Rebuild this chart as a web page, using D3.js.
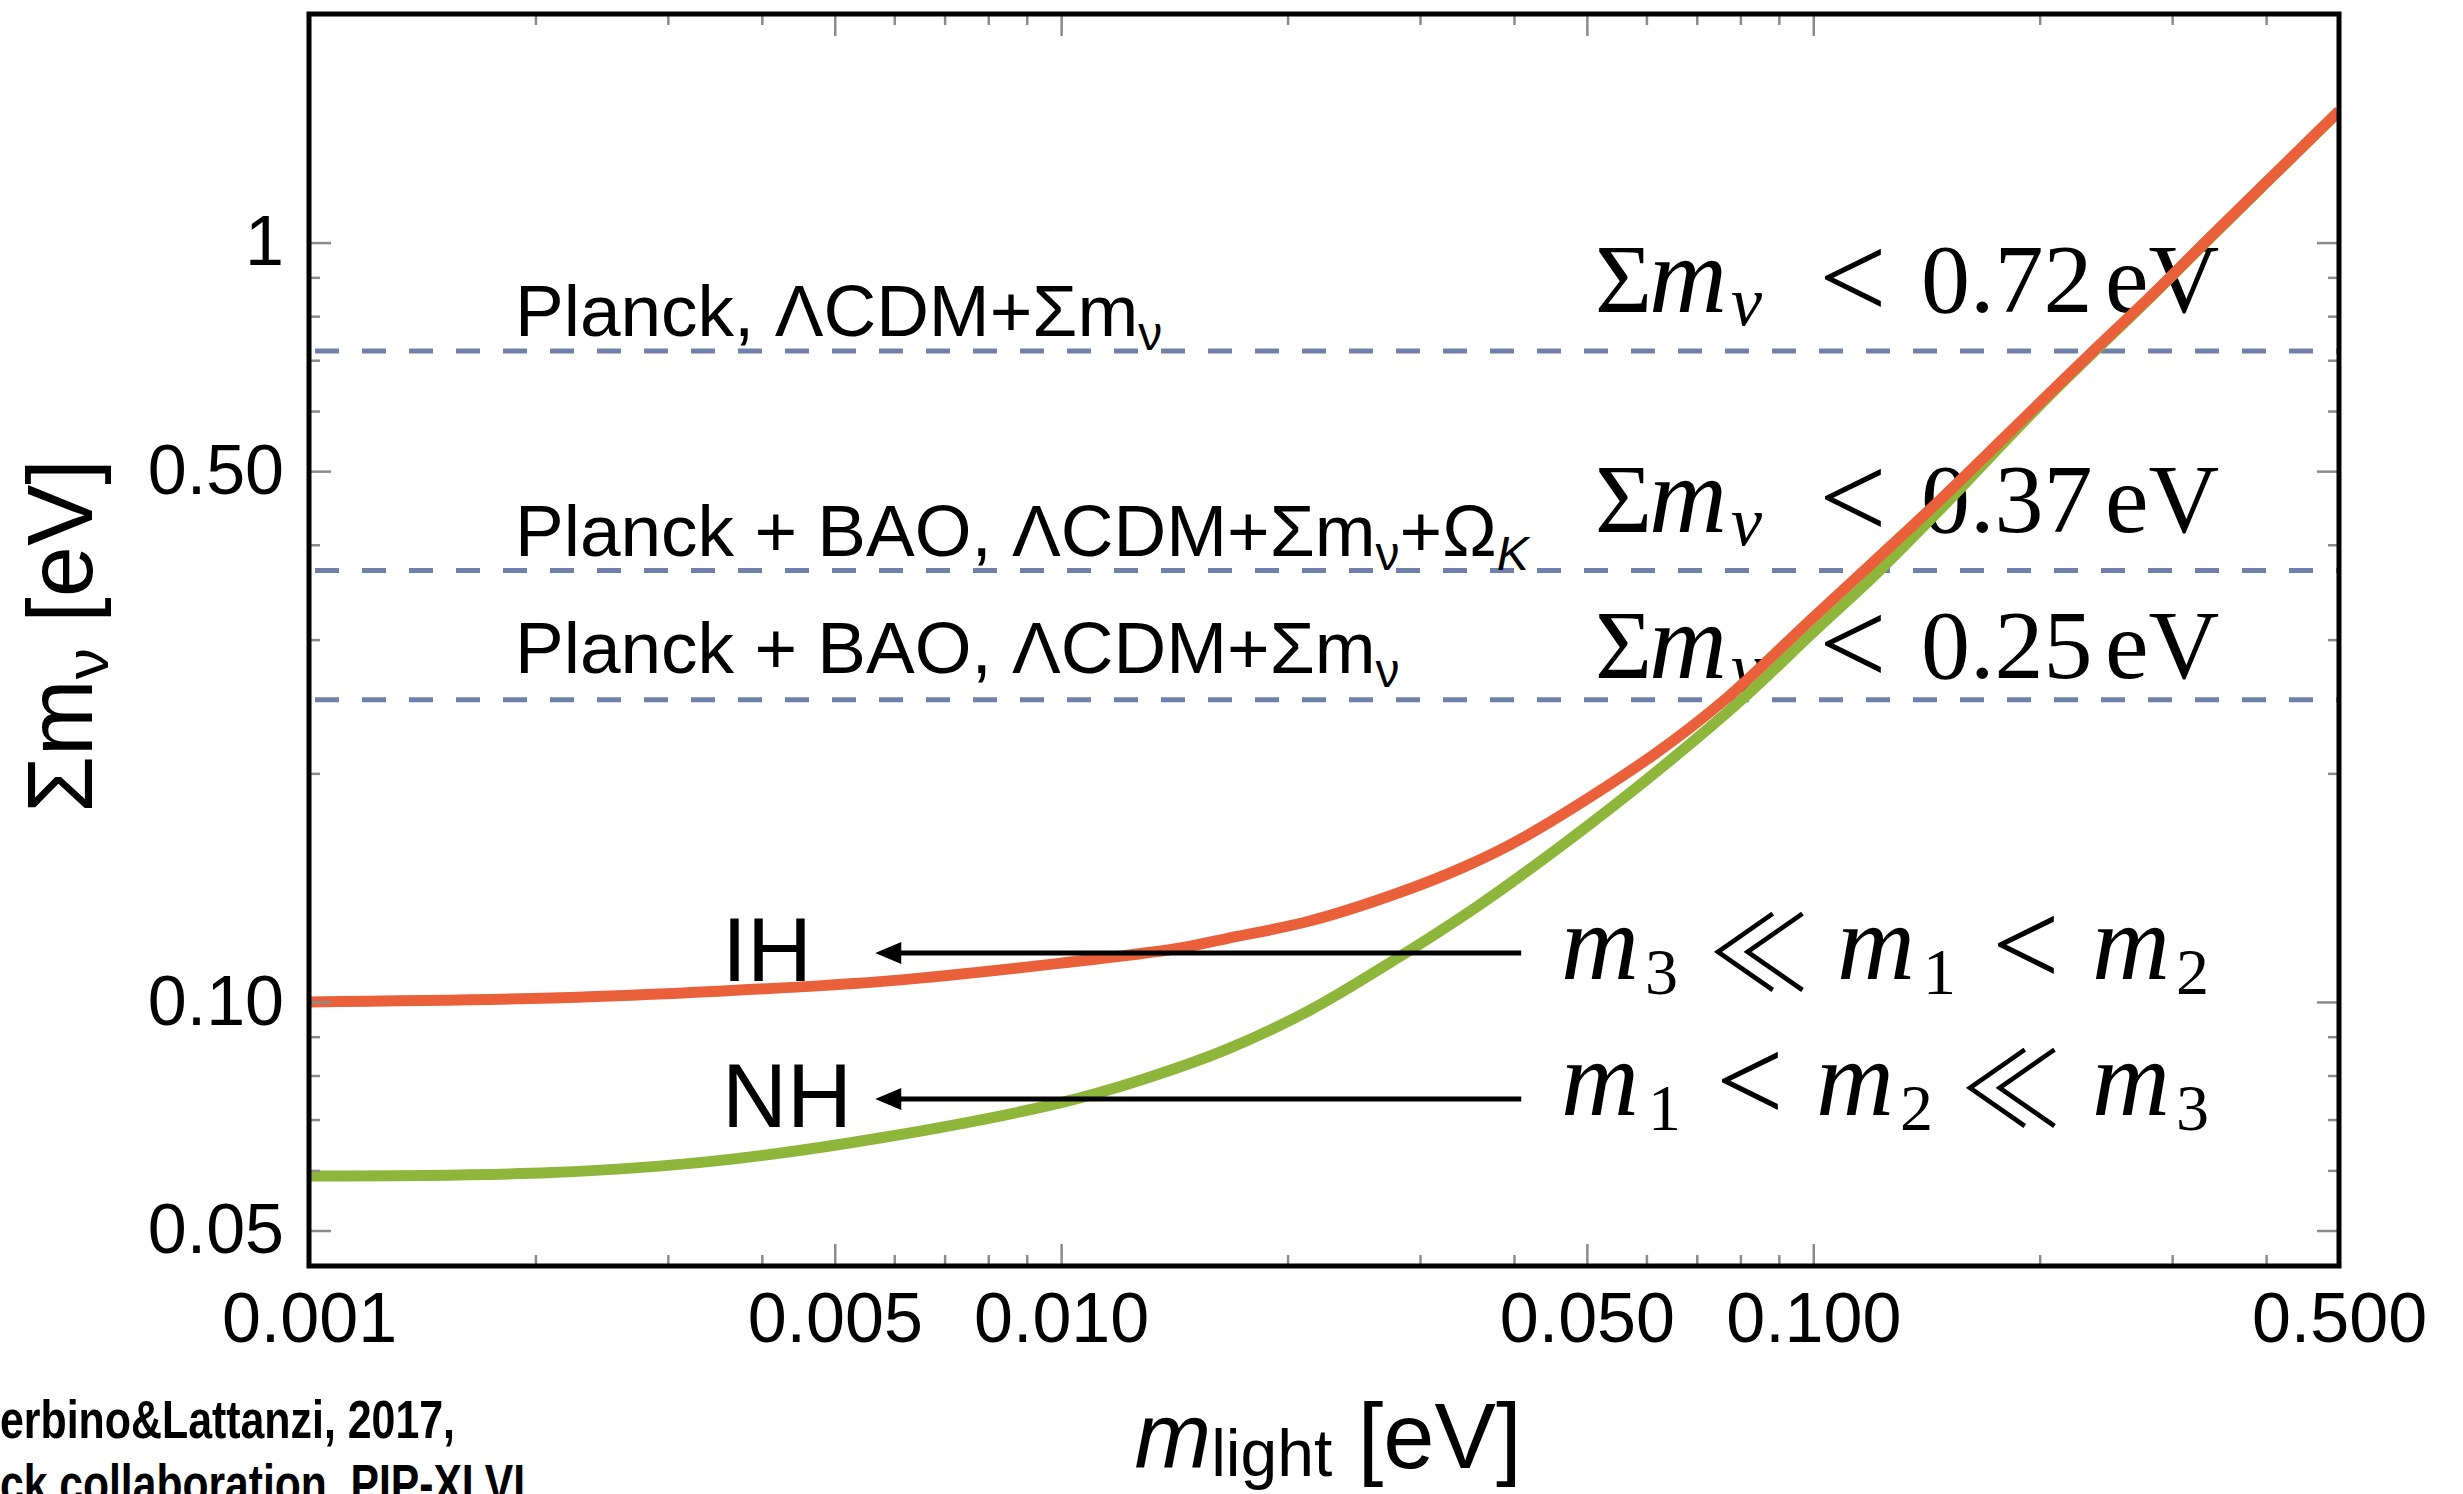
<!DOCTYPE html>
<html>
<head>
<meta charset="utf-8">
<script src="https://cdn.jsdelivr.net/npm/d3@7"></script>
<style>
  body { margin: 0; background: #fff; }
  svg { display: block; }
</style>
</head>
<body>
<div id="chart"></div>
<script>
// sum of neutrino masses vs. lightest mass (eV)
const ihMass = [0.001, 0.0021, 0.0035, 0.0059, 0.010, 0.0142, 0.0166, 0.0214, 0.0277, 0.0343, 0.0409, 0.0611, 0.077, 0.099, 0.120, 0.148, 0.205, 0.234, 0.281, 0.34, 0.5];
const ihSum  = [0.100, 0.1012, 0.1033, 0.1066, 0.1125, 0.1175, 0.1212, 0.1278, 0.1385, 0.1505, 0.164, 0.211, 0.252, 0.318, 0.379, 0.460, 0.630, 0.715, 0.850, 1.025, 1.49];
const nhMass = [0.001, 0.0021, 0.0035, 0.0059, 0.010, 0.0128, 0.0166, 0.0214, 0.0277, 0.0359, 0.0466, 0.0611, 0.081, 0.099, 0.1225, 0.148, 0.205, 0.281, 0.34, 0.5];
const nhSum  = [0.0590, 0.0596, 0.0618, 0.0665, 0.0737, 0.0790, 0.0866, 0.0975, 0.1135, 0.134, 0.1615, 0.199, 0.252, 0.304, 0.370, 0.447, 0.626, 0.848, 1.023, 1.489];

// upper bounds on the sum (eV) and the dataset behind each
const boundValues = [0.72, 0.37, 0.25];
const boundText = ['0.72', '0.37', '0.25'];
const datasetText = [
    [['Planck, ΛCDM+Σm', 'n'], ['ν', 's']],
    [['Planck + BAO, ΛCDM+Σm', 'n'], ['ν', 's'], ['+Ω', 'n'], ['K', 'si']],
    [['Planck + BAO, ΛCDM+Σm', 'n'], ['ν', 's']]
];

// hierarchy annotations
const hierarchyNames = ['IH', 'NH'];
const hierarchyArrowSum = [0.116, 0.0745];
const arrowFromMass = 0.0409;
const arrowToMass = 0.00566;
const orderingText = [
    [['m', 'i'], ['3', 's'], ['≪', 'r'], ['m', 'i'], ['1', 's'], ['<', 'r'], ['m', 'i'], ['2', 's']],
    [['m', 'i'], ['1', 's'], ['<', 'r'], ['m', 'i'], ['2', 's'], ['≪', 'r'], ['m', 'i'], ['3', 's']]
];

// axes
const xMajor = [0.001, 0.005, 0.01, 0.05, 0.1, 0.5];
const xLabels = ['0.001', '0.005', '0.010', '0.050', '0.100', '0.500'];
const xMinor = [0.002, 0.003, 0.004, 0.006, 0.007, 0.008, 0.009, 0.02, 0.03, 0.04, 0.06, 0.07, 0.08, 0.09, 0.2, 0.3, 0.4];
const yMajor = [0.05, 0.1, 0.5, 1];
const yLabels = ['0.05', '0.10', '0.50', '1'];
const yMinor = [0.06, 0.07, 0.08, 0.09, 0.2, 0.3, 0.4, 0.6, 0.7, 0.8, 0.9];

function drawChart(){
    const width = 2463;
    const height = 1494;
    const left = 309, right = 2339, top = 14, bottom = 1266;
    const sans = '"Liberation Sans", Arial, Helvetica, sans-serif';
    const serif = '"Liberation Serif", "Times New Roman", serif';
    const cjk = '"Noto Sans CJK JP", "DejaVu Sans", sans-serif';

    const svg = d3.select('#chart').append('svg')
                  .attr('width', width)
                  .attr('height', height);

    const x = d3.scaleLog().domain([0.001, 0.5]).range([left, right]);
    const y = d3.scaleLog().domain([0.0449, 2]).range([bottom, top]);

    svg.append('defs').append('clipPath').attr('id', 'plotclip')
       .append('rect')
       .attr('x', left).attr('y', top)
       .attr('width', right - left).attr('height', bottom - top);

    // dashed bound lines
    svg.selectAll('line.bound')
       .data(boundValues)
       .enter()
       .append('line')
       .attr('class', 'bound')
       .attr('x1', x(0.001) + 6)
       .attr('x2', x(0.5))
       .attr('y1', function(d){return y(d);})
       .attr('y2', function(d){return y(d);})
       .attr('stroke', '#6f80aa')
       .attr('stroke-width', 5)
       .attr('stroke-dasharray', '24,23');

    // dataset labels above each line
    const datasetBaselines = [336, 556, 673];
    datasetText.forEach(function(parts, i){
        let t = svg.append('text')
                   .attr('x', 515)
                   .attr('y', datasetBaselines[i])
                   .attr('font-family', sans)
                   .attr('font-size', 73)
                   .attr('fill', '#000');
        let shifted = false;
        parts.forEach(function(p){
            let ts = t.append('tspan').text(p[0]);
            if (p[1] === 's' || p[1] === 'si'){
                ts.attr('font-size', 48).attr('dy', shifted ? 0 : 14);
                if (p[1] === 'si') ts.attr('font-style', 'italic');
                shifted = true;
            } else if (shifted){
                ts.attr('dy', -14);
                shifted = false;
            }
        });
    });

    // "<" from the serif face, "≪" from the CJK face (thin double chevron)
    function relation(t, sym, xpos, base){
        if (sym === '≪'){
            t.append('tspan').attr('x', xpos - 8).attr('y', base + 12)
             .attr('font-family', cjk).attr('font-weight', 300)
             .attr('font-size', 104).text('≪');
        } else {
            t.append('tspan').attr('x', xpos).attr('y', base + 6)
             .attr('font-size', 120).text('<');
        }
    }

    // bound labels, LaTeX style
    const boundBaselines = [312, 532, 678];
    const bx = 1595;
    boundText.forEach(function(v, i){
        let base = boundBaselines[i];
        let t = svg.append('text')
                   .attr('font-family', serif)
                   .attr('font-size', 98)
                   .attr('fill', '#000');
        t.append('tspan').attr('x', bx).attr('y', base).text('Σ');
        t.append('tspan').attr('x', bx + 54).attr('y', base).attr('font-style', 'italic')
         .attr('font-size', 108).text('m');
        t.append('tspan').attr('x', bx + 136).attr('y', base + 13).attr('font-style', 'italic')
         .attr('font-size', 70).text('ν');
        relation(t, '<', bx + 224, base);
        t.append('tspan').attr('x', bx + 326).attr('y', base).text(v);
        t.append('tspan').attr('x', bx + 510).attr('y', base).text('eV');
    });

    // ordering relations
    const orderBaselines = [979, 1115];
    const orderX = [
        [1561, 1645, 1715, 1837, 1923, 1992, 2092, 2176],
        [1561, 1648, 1716, 1816, 1900, 1967, 2092, 2176]
    ];
    orderingText.forEach(function(parts, i){
        let base = orderBaselines[i];
        let t = svg.append('text')
                   .attr('font-family', serif)
                   .attr('font-size', 108)
                   .attr('fill', '#000');
        parts.forEach(function(p, j){
            let px = orderX[i][j];
            if (p[1] === 'r'){
                relation(t, p[0], px, base);
            } else if (p[1] === 'i'){
                t.append('tspan').attr('x', px).attr('y', base).attr('font-style', 'italic').text(p[0]);
            } else {
                t.append('tspan').attr('x', px).attr('y', base + 15).attr('font-size', 66).text(p[0]);
            }
        });
    });

    // curves
    const line = d3.line()
                   .x(function(d){return x(d[0]);})
                   .y(function(d){return y(d[1]);})
                   .curve(d3.curveCatmullRom.alpha(0.5));
    const curves = svg.append('g').attr('clip-path', 'url(#plotclip)');
    curves.append('path')
          .datum(d3.zip(nhMass, nhSum))
          .attr('d', line)
          .attr('fill', 'none')
          .attr('stroke', '#8db63a')
          .attr('stroke-width', 11);
    curves.append('path')
          .datum(d3.zip(ihMass, ihSum))
          .attr('d', line)
          .attr('fill', 'none')
          .attr('stroke', '#e9603a')
          .attr('stroke-width', 11);

    // IH / NH labels and arrows
    hierarchyNames.forEach(function(name, i){
        let ay = y(hierarchyArrowSum[i]);
        let tipX = x(arrowToMass);
        svg.append('line')
           .attr('x1', x(arrowFromMass))
           .attr('x2', tipX + 20)
           .attr('y1', ay)
           .attr('y2', ay)
           .attr('stroke', '#000')
           .attr('stroke-width', 5);
        svg.append('path')
           .attr('d', 'M' + tipX + ',' + ay + 'l26,-11l0,22z')
           .attr('fill', '#000');
        svg.append('text')
           .attr('x', 722)
           .attr('y', ay + 28)
           .attr('font-family', sans)
           .attr('font-size', 90)
           .attr('fill', '#000')
           .text(name);
    });

    // ticks, Mathematica style (inward, on all sides)
    function tickAxis(axis, values, size, labels){
        return axis.tickValues(values)
                   .tickSizeInner(-size)
                   .tickSizeOuter(0)
                   .tickFormat(labels ? function(d, i){return labels[i];} : '');
    }
    function styleAxis(g){
        g.select('.domain').remove();
        g.selectAll('.tick line').attr('stroke', '#8a8a8a').attr('stroke-width', 2.5);
        g.attr('font-family', sans).attr('font-size', 70);
        g.selectAll('.tick text').attr('fill', '#000');
    }
    styleAxis(svg.append('g').attr('transform', 'translate(0,' + bottom + ')')
                 .call(tickAxis(d3.axisBottom(x), xMajor, 22, xLabels).tickPadding(26)));
    styleAxis(svg.append('g').attr('transform', 'translate(0,' + bottom + ')')
                 .call(tickAxis(d3.axisBottom(x), xMinor, 11)));
    styleAxis(svg.append('g').attr('transform', 'translate(0,' + top + ')')
                 .call(tickAxis(d3.axisTop(x), xMajor, 22)));
    styleAxis(svg.append('g').attr('transform', 'translate(0,' + top + ')')
                 .call(tickAxis(d3.axisTop(x), xMinor, 11)));
    styleAxis(svg.append('g').attr('transform', 'translate(' + left + ',0)')
                 .call(tickAxis(d3.axisLeft(y), yMajor, 22, yLabels).tickPadding(25)));
    styleAxis(svg.append('g').attr('transform', 'translate(' + left + ',0)')
                 .call(tickAxis(d3.axisLeft(y), yMinor, 11)));
    styleAxis(svg.append('g').attr('transform', 'translate(' + right + ',0)')
                 .call(tickAxis(d3.axisRight(y), yMajor, 22)));
    styleAxis(svg.append('g').attr('transform', 'translate(' + right + ',0)')
                 .call(tickAxis(d3.axisRight(y), yMinor, 11)));

    // frame
    svg.append('rect')
       .attr('x', left).attr('y', top)
       .attr('width', right - left).attr('height', bottom - top)
       .attr('fill', 'none')
       .attr('stroke', '#000')
       .attr('stroke-width', 5);

    // axis titles
    let xt = svg.append('text')
                .attr('x', (left + right) / 2 + 4)
                .attr('y', 1468)
                .attr('text-anchor', 'middle')
                .attr('font-family', sans)
                .attr('font-size', 92)
                .attr('fill', '#000');
    xt.append('tspan').attr('font-style', 'italic').text('m');
    xt.append('tspan').attr('font-size', 66).attr('dy', 8).text('light');
    xt.append('tspan').attr('dy', -8).text(' [eV]');

    let yt = svg.append('text')
                .attr('transform', 'translate(92,' + ((top + bottom) / 2 - 4) + ') rotate(-90)')
                .attr('text-anchor', 'middle')
                .attr('font-family', sans)
                .attr('font-size', 92)
                .attr('fill', '#000');
    yt.append('tspan').text('Σm');
    yt.append('tspan').attr('font-size', 62).attr('dy', 16).text('ν');
    yt.append('tspan').attr('dy', -16).text(' [eV]');

    // reference note, cut by the image edges as in the original
    svg.append('text')
       .attr('x', 0).attr('y', 1438)
       .attr('font-family', sans).attr('font-size', 54).attr('font-weight', 'bold')
       .attr('textLength', 455).attr('lengthAdjust', 'spacingAndGlyphs')
       .attr('fill', '#000')
       .text('erbino&Lattanzi, 2017,');
    svg.append('text')
       .attr('x', 0).attr('y', 1502)
       .attr('font-family', sans).attr('font-size', 54).attr('font-weight', 'bold')
       .attr('textLength', 525).attr('lengthAdjust', 'spacingAndGlyphs')
       .attr('fill', '#000')
       .text('ck collaboration, PIP-XLVI');
}

drawChart();
</script>
</body>
</html>
